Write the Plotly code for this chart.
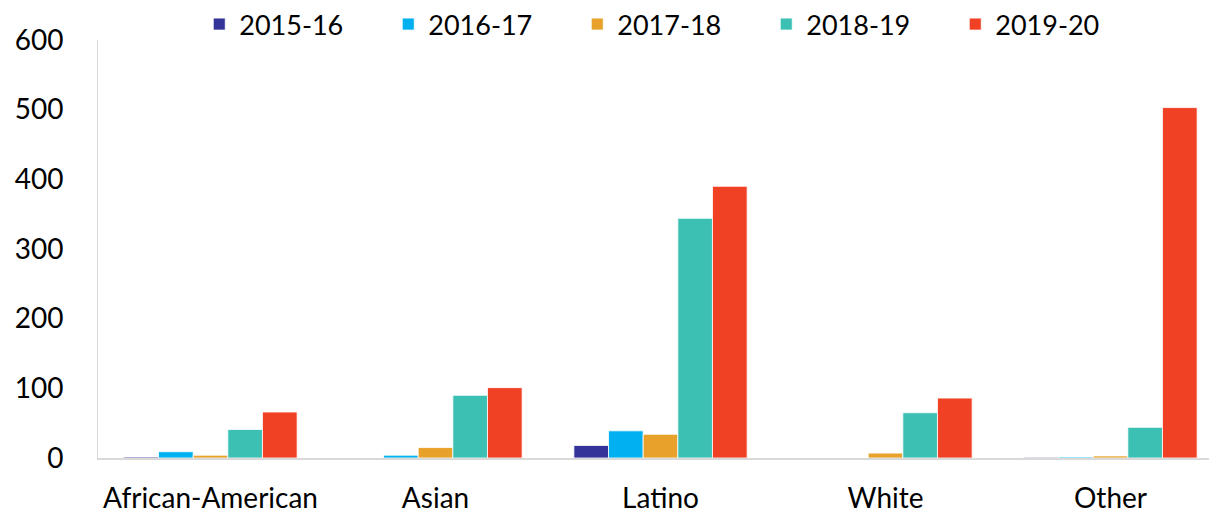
import plotly.graph_objects as go

categories = ["African-American", "Asian", "Latino", "White", "Other"]
series_names = ["2015-16", "2016-17", "2017-18", "2018-19", "2019-20"]
v_2015_16 = [1.5, 0, 18, 0, 1]
v_2016_17 = [9, 4, 39, 0, 1.5]
v_2017_18 = [4, 15, 34, 7, 3]
v_2018_19 = [41, 90, 344, 65, 44]
v_2019_20 = [66, 101, 390, 86, 503]
values = [v_2015_16, v_2016_17, v_2017_18, v_2018_19, v_2019_20]
colors = ["#343399", "#00B0F0", "#E8A22C", "#3DC0B4", "#F14124"]
y_ticks = [0, 100, 200, 300, 400, 500, 600]

fig = go.Figure()
for name, vals, col in zip(series_names, values, colors):
    fig.add_trace(go.Bar(
        name=name, x=categories, y=vals,
        marker=dict(color=col, line=dict(color="white", width=0.8)),
    ))

font_family = "Lato, 'Open Sans', sans-serif"
fig.update_layout(
    width=1217, height=515,
    barmode="group", bargap=0.23, bargroupgap=0.0,
    plot_bgcolor="white", paper_bgcolor="white",
    margin=dict(l=90, r=2, t=32, b=65, autoexpand=False),
    font=dict(family=font_family, size=28, color="#000000"),
    legend=dict(orientation="h", x=0.09, xanchor="left", y=1.037, yanchor="middle",
                font=dict(size=27), itemwidth=30, entrywidth=144, entrywidthmode="pixels",
                traceorder="normal"),
    showlegend=True,
)
fig.update_yaxes(range=[0, 600], tickvals=y_ticks, showgrid=False, zeroline=False,
                 showline=True, linecolor="#D9D9D9", linewidth=1, ticks="",
                 ticklabelstandoff=28, tickfont=dict(size=28))
fig.update_xaxes(showgrid=False, showline=True, linecolor="#D9D9D9", linewidth=2,
                 ticks="", ticklabelstandoff=14, tickfont=dict(size=28))

fig.write_html("out.html")
